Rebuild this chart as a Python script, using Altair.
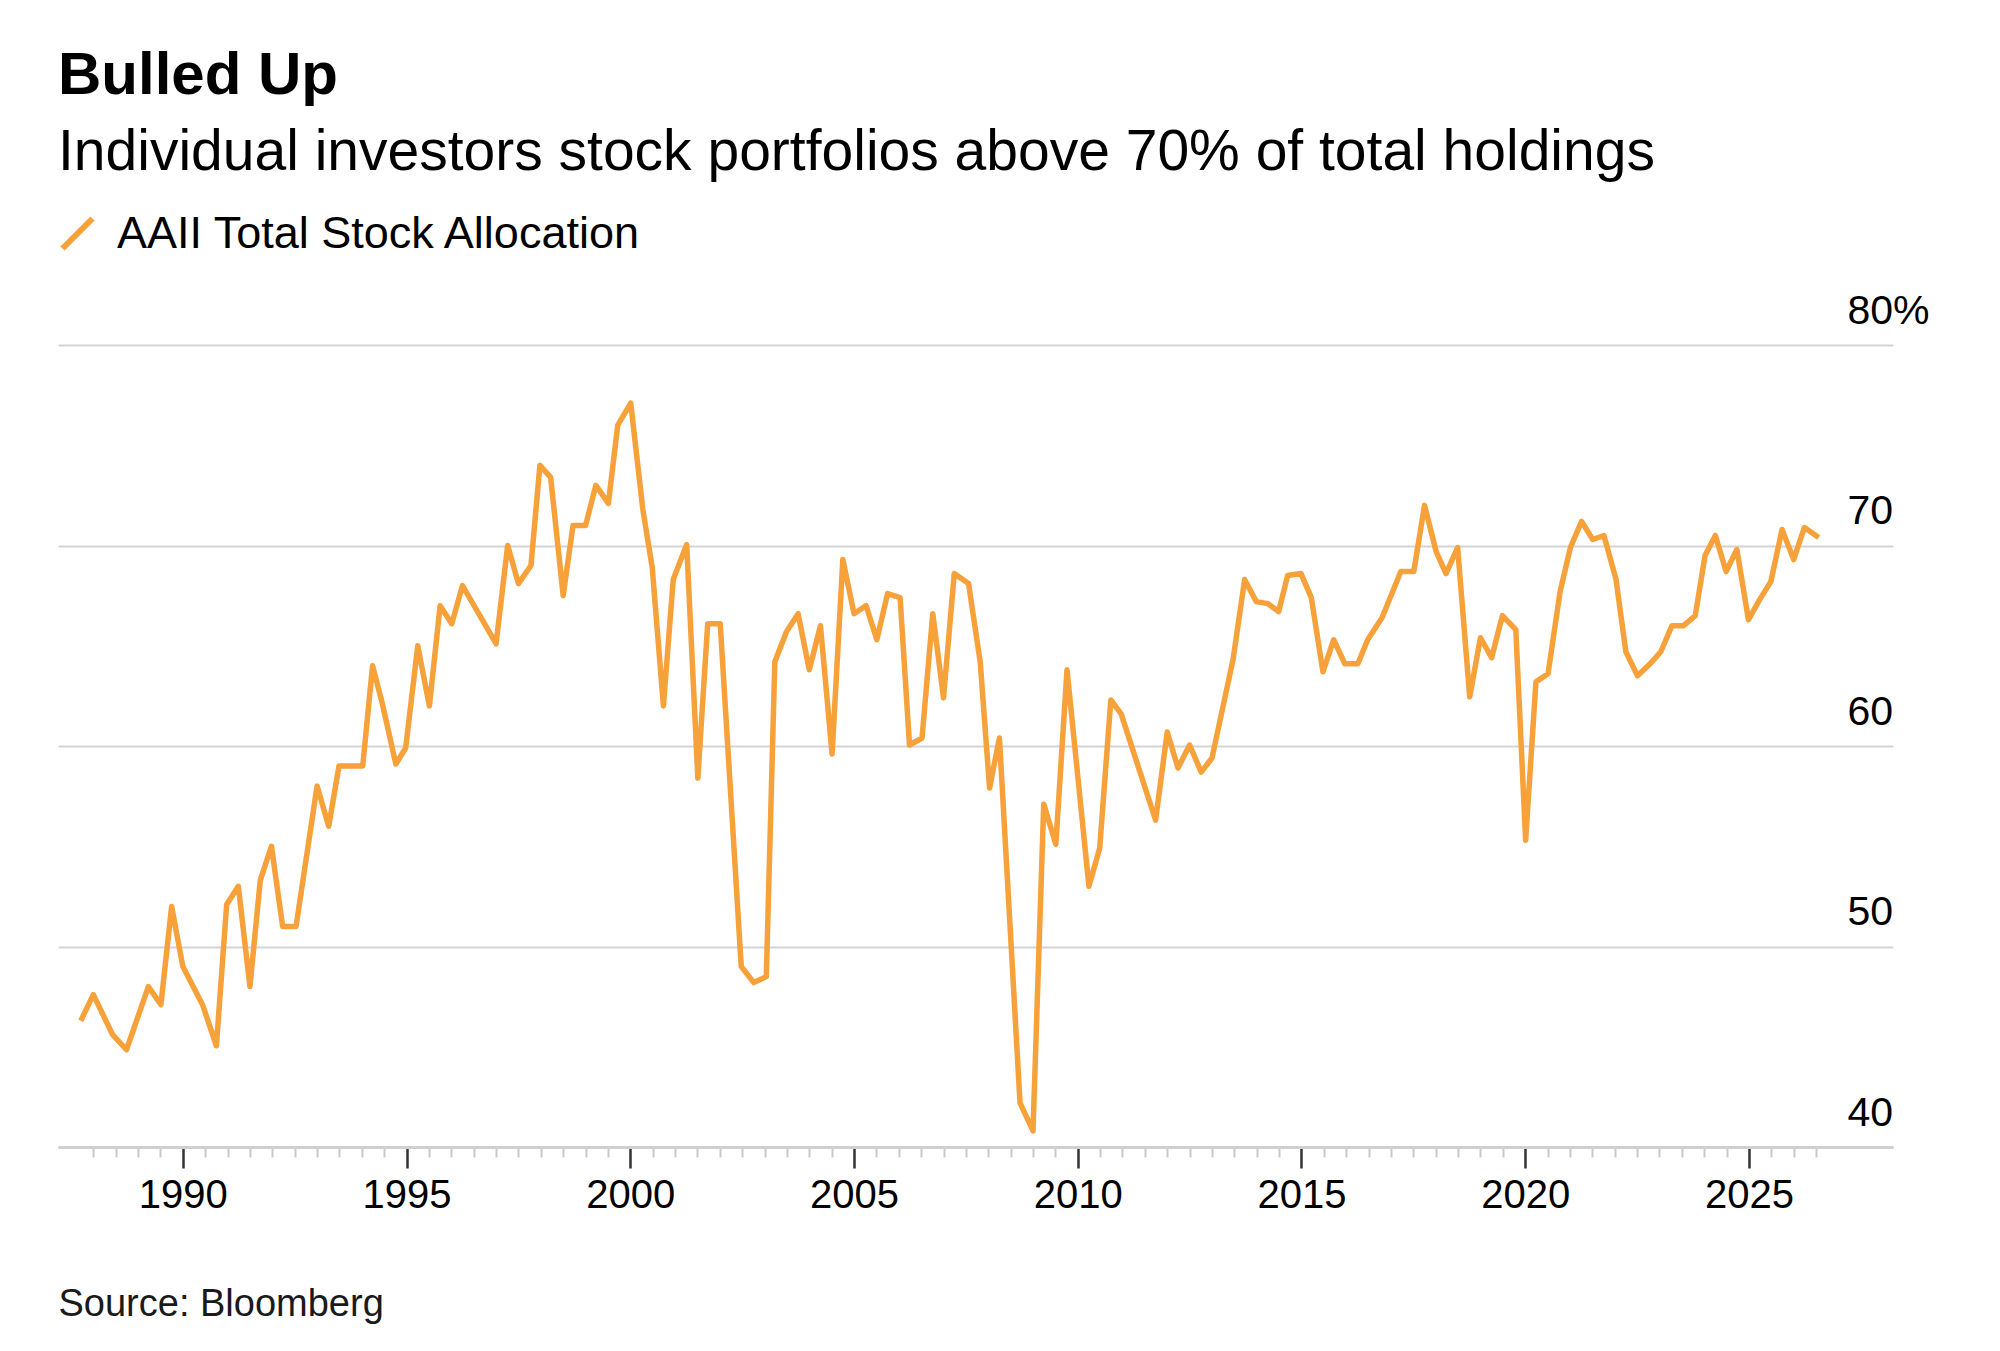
import altair as alt
import pandas as pd

years = [
    1987.72, 1988.00, 1988.43, 1988.74, 1989.23, 1989.51, 1989.75, 1990.00, 1990.44, 1990.75,
    1990.98, 1991.24, 1991.50, 1991.73, 1991.98, 1992.23, 1992.53, 1993.00, 1993.26, 1993.49,
    1994.02, 1994.24, 1994.46, 1994.76, 1994.98, 1995.25, 1995.51, 1995.75, 1996.01, 1996.25,
    1997.00, 1997.26, 1997.50, 1997.78, 1997.98, 1998.22, 1998.50, 1998.72, 1999.00, 1999.23,
    1999.51, 1999.72, 2000.01, 2000.28, 2000.49, 2000.74, 2000.96, 2001.26, 2001.51, 2001.73,
    2002.01, 2002.48, 2002.76, 2003.04, 2003.23, 2003.49, 2003.75, 2004.00, 2004.25, 2004.51,
    2004.75, 2005.00, 2005.27, 2005.51, 2005.75, 2006.03, 2006.24, 2006.52, 2006.76, 2007.00,
    2007.24, 2007.56, 2007.82, 2008.03, 2008.25, 2008.71, 2009.00, 2009.24, 2009.51, 2009.76,
    2010.25, 2010.49, 2010.74, 2010.97, 2011.74, 2012.00, 2012.24, 2012.50, 2012.76, 2013.00,
    2013.47, 2013.73, 2013.99, 2014.25, 2014.49, 2014.69, 2014.99, 2015.22, 2015.48, 2015.72,
    2015.97, 2016.26, 2016.48, 2016.80, 2017.22, 2017.51, 2017.75, 2018.01, 2018.23, 2018.49,
    2018.76, 2019.00, 2019.25, 2019.49, 2019.79, 2020.01, 2020.24, 2020.51, 2020.78, 2021.01,
    2021.26, 2021.51, 2021.76, 2022.03, 2022.25, 2022.51, 2022.79, 2023.03, 2023.28, 2023.54,
    2023.80, 2024.02, 2024.25, 2024.49, 2024.73, 2024.99, 2025.24, 2025.49, 2025.74, 2026.00,
    2026.24, 2026.56,
]
values = [
    46.3, 47.6, 45.6, 44.85, 48.0, 47.1, 52.0, 49.0, 47.1, 45.05,
    52.1, 53.0, 48.0, 53.3, 55.0, 51.0, 51.0, 58.0, 56.0, 59.0,
    59.0, 64.0, 62.1, 59.1, 59.9, 65.0, 62.0, 67.0, 66.1, 68.0,
    65.1, 70.0, 68.1, 69.0, 74.0, 73.4, 67.5, 71.0, 71.0, 73.0,
    72.1, 76.0, 77.1, 71.8, 68.9, 62.0, 68.3, 70.05, 58.4, 66.1,
    66.1, 49.0, 48.2, 48.5, 64.2, 65.7, 66.6, 63.8, 66.0, 59.6,
    69.3, 66.6, 67.0, 65.3, 67.6, 67.4, 60.05, 60.4, 66.6, 62.4,
    68.6, 68.1, 64.2, 57.9, 60.4, 42.2, 40.8, 57.1, 55.1, 63.8,
    53.0, 54.9, 62.3, 61.6, 56.3, 60.7, 58.9, 60.05, 58.7, 59.4,
    64.3, 68.3, 67.2, 67.1, 66.7, 68.5, 68.6, 67.4, 63.7, 65.3,
    64.1, 64.1, 65.3, 66.4, 68.7, 68.7, 72.0, 69.7, 68.6, 69.9,
    62.45, 65.4, 64.4, 66.5, 65.8, 55.3, 63.2, 63.6, 67.7, 69.9,
    71.2, 70.3, 70.5, 68.3, 64.7, 63.5, 64.1, 64.7, 66.0, 66.0,
    66.5, 69.5, 70.5, 68.7, 69.8, 66.3, 67.3, 68.2, 70.8, 69.3,
    70.9, 70.4,
]
series_name = "AAII Total Stock Allocation"
major_years = [1990, 1995, 2000, 2005, 2010, 2015, 2020, 2025]
minor_years = [y / 2 for y in range(1988 * 2, 2026 * 2 + 2) if (y / 2) % 5 != 0]
y_ticks = [40, 50, 60, 70, 80]

title_text = "Bulled Up"
subtitle_text = "Individual investors stock portfolios above 70% of total holdings"
source_text = "Source: Bloomberg"

df = pd.DataFrame({"year": years, "value": values, "series": series_name})

FONT = "Liberation Sans"
ORANGE = "#f6a13a"

x_scale = alt.Scale(domain=[1987.21, 2028.22], nice=False, zero=False)
y_scale = alt.Scale(domain=[40, 80], nice=False, zero=False)

y_axis = alt.Axis(
    values=y_ticks, orient="right", grid=True, gridColor="#d4d4d4", gridWidth=2,
    domain=False, ticks=False, tickSize=0, labelAlign="left", labelPadding=-46,
    labelBaseline="alphabetic", labelOffset=-22, labelFontSize=41, labelFont=FONT,
    labelColor="#000000", labelExpr="datum.value == 80 ? '80%' : datum.label",
    title=None,
)

main_x_axis = alt.Axis(
    orient="bottom", values=major_years, format="d", grid=False, labelFontSize=40,
    labelFont=FONT, labelColor="#000000", labelPadding=7, labelFlush=False,
    labelOverlap=False, tickSize=21, tickColor="#333333", tickWidth=2.5,
    domainColor="#d0d0d0", domainWidth=3,
    title=source_text, titleFont=FONT, titleFontSize=38, titleFontWeight="normal",
    titleColor="#1a1a1a", titleX=0, titleY=168, titleAlign="left", titleBaseline="alphabetic",
)

minor_x_axis = alt.Axis(
    orient="bottom", values=minor_years, labels=False, grid=False, domain=False,
    tickSize=10, tickColor="#c8c8c8", tickWidth=2, title=None,
)

line = alt.Chart(df).mark_line(strokeWidth=5.5, strokeJoin="round").encode(
    x=alt.X("year:Q", scale=x_scale, axis=main_x_axis),
    y=alt.Y("value:Q", scale=y_scale, axis=y_axis),
    color=alt.Color(
        "series:N",
        scale=alt.Scale(domain=[series_name], range=[ORANGE]),
        legend=alt.Legend(
            title=None, orient="none", legendX=-3, legendY=-134, padding=0,
            symbolType="M-1,1L1,-1", symbolSize=900, symbolStrokeWidth=6,
            labelFontSize=45, labelFont=FONT, labelColor="#000000", labelOffset=17,
            labelLimit=2000,
        ),
    ),
)

minor = alt.Chart(df).mark_line(opacity=0).encode(
    x=alt.X("year:Q", scale=x_scale, axis=minor_x_axis),
    y=alt.Y("value:Q", scale=y_scale, axis=y_axis),
)

chart = alt.layer(minor, line).resolve_axis(x="independent").properties(
    width=1835,
    height=802,
    background="white",
    autosize=alt.AutoSizeParams(type="none"),
    padding={"left": 50, "top": 337, "right": 80, "bottom": 180},
    title=alt.TitleParams(
        text=title_text, subtitle=subtitle_text, anchor="start", frame="group",
        font=FONT, fontSize=60, fontWeight="bold", color="#000000",
        subtitleFont=FONT, subtitleFontSize=57, subtitleColor="#000000",
        subtitlePadding=18, offset=29,
    ),
).configure_view(stroke="transparent", strokeWidth=0)

chart.save("out.html", embed_options={"renderer": "svg", "actions": False})
